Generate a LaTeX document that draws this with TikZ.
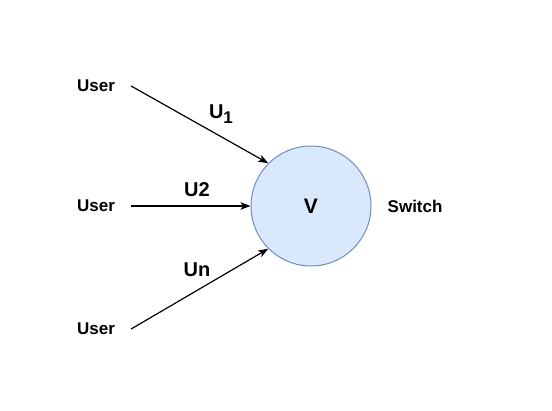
\documentclass[tikz,border=0pt]{standalone}
\usepackage{fontspec}
\setmainfont{Liberation Sans}
\usetikzlibrary{arrows.meta, positioning}
\definecolor{swFill}{HTML}{DAE8FC}
\definecolor{swDraw}{HTML}{6C8EBF}
\tikzset{
    font=\bfseries,
    >={Stealth[length=10pt, width=7.5pt, inset=2.5pt]},
    % Shapes
    user/.style={font=\fontsize{17}{20}\selectfont\bfseries, inner xsep=16pt, inner ysep=2pt},
    sw/.style={circle, draw=swDraw, fill=swFill, line width=1pt, minimum size=120pt,
               inner sep=0pt, font=\fontsize{21}{24}\selectfont\bfseries},
    % Flow & Labels
    flow/.style={->, line width=1.2pt, black},
    lbl/.style={font=\fontsize{20}{24}\selectfont\bfseries, inner sep=1pt}
}
\begin{document}
\begin{tikzpicture}[x=1pt, y=-1pt]
\useasboundingbox (0,0) rectangle (552,410);

\node[sw] (v) at (311,206) {V};
\node[user, inner xsep=2pt, right=14pt of v] (switch) {Switch};

\node[user] (u1) at (96,86) {User};
\node[user] (u2) at (96,206) {User};
\node[user] (u3) at (96,329) {User};

\draw[flow] (u1.east) -- (v.135);
\draw[flow] (u2.east) -- (v.west);
\draw[flow] (u3.east) -- (v.225);

\node[lbl] (l1) at (221,114) {U\raisebox{-5pt}{\fontsize{17}{20}\selectfont 1}};
\node[lbl] (l2) at (197,190) {U2};
\node[lbl] (l3) at (197,270) {Un};

\end{tikzpicture}
\end{document}
